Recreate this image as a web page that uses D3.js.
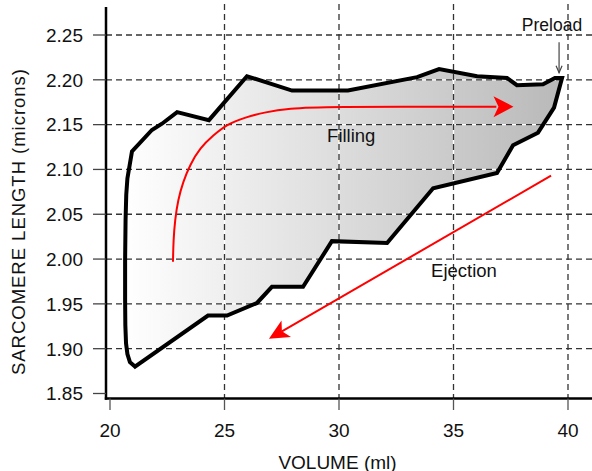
<html>
<script src="https://d3js.org/d3.v7.min.js"></script>
<style>
body {margin: 0; background: #fff;}
text {font-family: "Liberation Sans", Arial, sans-serif; fill: #111;}
</style>
<body>
<svg width=592 height=471></svg>
<script>
// axis ticks
var xTicks = [20, 25, 30, 35, 40];
var yTicks = [1.85, 1.90, 1.95, 2.00, 2.05, 2.10, 2.15, 2.20, 2.25];
var xGrid = [25, 30, 35, 40];
var yGrid = [1.90, 1.95, 2.00, 2.05, 2.10, 2.15, 2.20, 2.25];

// pressure-volume style loop: volume (ml) vs sarcomere length (microns)
var loopVolume = [21.09, 20.87, 20.76, 20.70, 20.67, 20.66, 20.66, 20.68, 20.71, 20.76, 20.96,
  21.83, 22.27, 22.93, 24.32, 25.98, 27.95, 30.39, 33.41, 34.37, 36.03, 37.34, 37.77, 38.91,
  39.43, 39.74, 39.39, 38.69, 37.60, 36.90, 34.11, 32.10, 29.69, 28.43, 27.07, 26.42, 25.11, 24.28];
var loopLength = [1.880, 1.885, 1.894, 1.906, 1.926, 1.954, 1.999, 2.044, 2.072, 2.090, 2.120,
  2.144, 2.151, 2.164, 2.155, 2.204, 2.188, 2.188, 2.203, 2.212, 2.204, 2.202, 2.194, 2.195,
  2.202, 2.202, 2.169, 2.141, 2.127, 2.096, 2.079, 2.018, 2.020, 1.969, 1.969, 1.951, 1.937, 1.937];

// filling arrow (curved)
var fillVolume = [22.75, 22.77, 22.84, 22.97, 23.19, 23.49, 23.93, 24.50, 25.15, 25.90, 26.77, 27.86, 29.17, 37.62];
var fillLength = [1.997, 2.021, 2.044, 2.066, 2.086, 2.105, 2.124, 2.138, 2.151, 2.158, 2.164, 2.168, 2.170, 2.170];

// ejection arrow (straight)
var ejectVolume = [39.26, 26.94];
var ejectLength = [2.093, 1.911];

// preload pointer
var preloadVolume = [39.61, 39.61];
var preloadLength = [2.242, 2.208];

var svg = d3.select("svg");
var x = d3.scaleLinear().domain([20, 40]).range([110, 568]);
var y = d3.scaleLinear().domain([1.85, 2.25]).range([393.5, 35]);

var axisLeftX = 106, axisBottomY = 398.5;

// gradient fill
var grad = svg.append("defs").append("linearGradient")
  .attr("id", "gfill").attr("gradientUnits", "userSpaceOnUse")
  .attr("x1", x(20.6)).attr("x2", x(39.7)).attr("y1", 0).attr("y2", 0);
grad.append("stop").attr("offset", 0).attr("stop-color", "#ffffff");
grad.append("stop").attr("offset", 1).attr("stop-color", "#b9b9b9");

var loop = loopVolume.map(function(v, i) { return [v, loopLength[i]]; });
var lineXY = d3.line().x(function(d) { return x(d[0]); }).y(function(d) { return y(d[1]); });

svg.append("path")
  .attr("d", lineXY(loop) + "Z")
  .attr("fill", "url(#gfill)")
  .attr("stroke", "none");

// grid lines (white underlay so gaps show white inside the fill)
var grid = svg.append("g");
[["#fff", null], ["#333", "6,4"]].forEach(function(s) {
  grid.selectAll(null).data(yGrid).enter().append("line")
    .attr("x1", axisLeftX).attr("x2", 592)
    .attr("y1", function(d) { return y(d); }).attr("y2", function(d) { return y(d); })
    .attr("stroke", s[0]).attr("stroke-width", 1.3).attr("stroke-dasharray", s[1]);
  grid.selectAll(null).data(xGrid).enter().append("line")
    .attr("x1", function(d) { return x(d); }).attr("x2", function(d) { return x(d); })
    .attr("y1", 4).attr("y2", axisBottomY)
    .attr("stroke", s[0]).attr("stroke-width", 1.3).attr("stroke-dasharray", s[1]);
});

// loop outline
svg.append("path")
  .attr("d", lineXY(loop) + "Z")
  .attr("fill", "none")
  .attr("stroke", "#000")
  .attr("stroke-width", 4)
  .attr("stroke-linejoin", "miter")
  .attr("stroke-miterlimit", 3);

// arrowhead helper (notched filled head), tip at end point
function arrowHead(tx, ty, fx, fy, len, half, notch, color) {
  var dx = fx - tx, dy = fy - ty, L = Math.sqrt(dx * dx + dy * dy);
  var ux = dx / L, uy = dy / L, px = -uy, py = ux;
  var bx = tx + ux * len, by = ty + uy * len;
  var nx = tx + ux * (len - notch), ny = ty + uy * (len - notch);
  var pts = [[tx, ty], [bx + px * half, by + py * half], [nx, ny], [bx - px * half, by - py * half]];
  svg.append("path").attr("d", "M" + pts.join("L") + "Z").attr("fill", color);
}

// filling arrow
var fillPts = fillVolume.map(function(v, i) { return [v, fillLength[i]]; });
var fillBody = fillPts.slice(0, fillPts.length - 1);
var tipF = fillPts[fillPts.length - 1];
fillBody.push([tipF[0] - 0.75, tipF[1]]);
svg.append("path")
  .attr("d", d3.line().x(function(d) { return x(d[0]); }).y(function(d) { return y(d[1]); })
    .curve(d3.curveBasis)(fillBody))
  .attr("fill", "none").attr("stroke", "#ff0000").attr("stroke-width", 2);
arrowHead(x(tipF[0]), y(tipF[1]), x(tipF[0]) - 10, y(tipF[1]), 20, 10.5, 5, "#ff0000");

// ejection arrow
var ex0 = x(ejectVolume[0]), ey0 = y(ejectLength[0]), ex1 = x(ejectVolume[1]), ey1 = y(ejectLength[1]);
var eL = Math.hypot(ex0 - ex1, ey0 - ey1);
svg.append("line")
  .attr("x1", ex0).attr("y1", ey0)
  .attr("x2", ex1 + (ex0 - ex1) / eL * 15).attr("y2", ey1 + (ey0 - ey1) / eL * 15)
  .attr("stroke", "#ff0000").attr("stroke-width", 2);
arrowHead(ex1, ey1, ex0, ey0, 20, 9.5, 5, "#ff0000");

// preload pointer
var p0x = x(preloadVolume[0]), p0y = y(preloadLength[0]), p1y = y(preloadLength[1]);
svg.append("line").attr("x1", p0x).attr("x2", p0x).attr("y1", p0y).attr("y2", p1y)
  .attr("stroke", "#444").attr("stroke-width", 1.2);
svg.append("path")
  .attr("d", "M" + (p0x - 3) + "," + (p1y - 7) + "L" + p0x + "," + p1y + "L" + (p0x + 3) + "," + (p1y - 7))
  .attr("fill", "none").attr("stroke", "#444").attr("stroke-width", 1.2);

// axes
var axes = svg.append("g");
axes.append("line").attr("x1", axisLeftX).attr("x2", axisLeftX).attr("y1", 7).attr("y2", axisBottomY + 1.2)
  .attr("stroke", "#000").attr("stroke-width", 2.5);
axes.append("line").attr("x1", axisLeftX - 1.2).attr("x2", 592).attr("y1", axisBottomY).attr("y2", axisBottomY)
  .attr("stroke", "#000").attr("stroke-width", 2.5);

axes.selectAll(null).data(yTicks).enter().append("line")
  .attr("x1", 93).attr("x2", axisLeftX)
  .attr("y1", function(d) { return y(d); }).attr("y2", function(d) { return y(d); })
  .attr("stroke", "#444").attr("stroke-width", 1.3);
axes.selectAll(null).data(yTicks).enter().append("text")
  .attr("x", 83).attr("y", function(d) { return y(d); }).attr("dy", "0.36em")
  .attr("text-anchor", "end").attr("font-size", 19)
  .text(function(d) { return d3.format(".2f")(d); });

axes.selectAll(null).data(xTicks).enter().append("line")
  .attr("x1", function(d) { return x(d); }).attr("x2", function(d) { return x(d); })
  .attr("y1", axisBottomY).attr("y2", 410)
  .attr("stroke", "#555").attr("stroke-width", 1.3);
axes.selectAll(null).data(xTicks).enter().append("text")
  .attr("x", function(d) { return x(d); }).attr("y", 437)
  .attr("text-anchor", "middle").attr("font-size", 19)
  .text(function(d) { return d; });

// titles
svg.append("text").attr("x", 337.5).attr("y", 468.5).attr("text-anchor", "middle")
  .attr("font-size", 19).text("VOLUME (ml)");
svg.append("text").attr("transform", "translate(25,222) rotate(-90)").attr("text-anchor", "middle")
  .attr("font-size", 18.5).attr("textLength", 306).attr("lengthAdjust", "spacing")
  .text("SARCOMERE LENGTH (microns)");

// annotations
svg.append("text").attr("x", x(29.48)).attr("y", y(2.1305)).attr("font-size", 18.5).text("Filling");
svg.append("text").attr("x", x(34.02)).attr("y", y(1.980)).attr("font-size", 18.5).text("Ejection");
svg.append("text").attr("x", 552).attr("y", 31).attr("text-anchor", "middle").attr("font-size", 17.5).text("Preload");
</script>
</body>
</html>
